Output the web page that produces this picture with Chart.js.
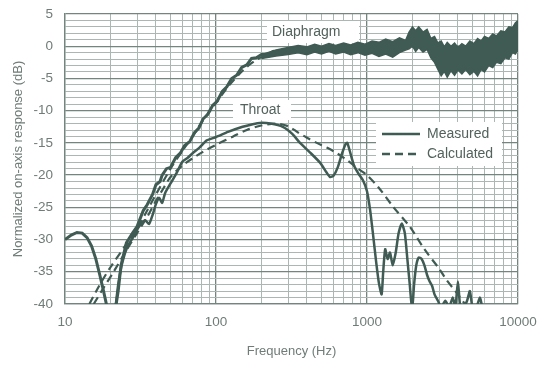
<!DOCTYPE html>
<html>
<head>
<meta charset="utf-8">
<script src="https://cdn.jsdelivr.net/npm/chart.js@4/dist/chart.umd.min.js"></script>
<style>
  body { margin: 0; background: #fff; }
  canvas { display: block; }
</style>
</head>
<body>
<canvas id="responseChart" width="537" height="365"></canvas>
<script>
// Diaphragm, measured (the 10-19 Hz bump is a separate stub, hence the null gap)
const diaMeasFreq = [10, 11, 12, 13, 14, 15, 16, 17, 18, 19.2, 20.5,
  21.5, 22.5, 23.5, 25.5, 28, 30, 33, 35, 38, 40, 42.6, 44, 47, 50, 54, 58, 62, 67, 72, 77, 82, 88, 95,
  102, 110, 118, 127, 137, 148, 160, 172, 185, 200, 220, 240, 260, 280, 300, 330, 360, 390, 420, 460,
  500, 540, 580, 630, 680, 730, 790, 850, 920, 1000, 1100, 1200, 1300, 1400, 1500, 1600, 1750, 1900,
  2000, 2150, 2300, 2500, 2650, 2800, 3000, 3200, 3400, 3700, 4000, 4300, 4600, 5000, 5500, 6000,
  6600, 7200, 8000, 8800, 9400, 10000];
const diaMeasDb = [-30, -29.3, -28.9, -29, -29.7, -31, -33, -35.5, -38, -41, null,
  -41, -38, -34, -30.5, -29, -28, -25.5, -24.6, -23, -21.5, -21, -20, -19, -18.8, -17.3, -16.6, -15.4,
  -14.8, -13.4, -12.7, -11.3, -10.6, -9.2, -8.5, -7, -6.3, -5, -4.5, -3.3, -2.9, -1.9, -1.8, -1.3,
  -1.3, -0.8, -1, -0.6, -0.9, -0.5, -0.6, -0.4, -0.6, -0.3, -0.6, -0.2, -0.5, -0.3, -0.4, -0.2, -0.5,
  -0.3, -0.5, -0.5, -0.2, -0.5, -0.1, -0.4, -0.5, 0.1, 0.1, 1, 1.5, 1, 0.8, 1, -0.3, -0.5, -1.5, -2,
  -2.1, -1.9, -2, -1.9, -1.8, -1.8, -1.7, -1.3, -0.8, -0.4, 0, 0.5, 1.1, 1.7];

// Diaphragm, measured: upper and lower edges of the noisy band
const diaBandFreq = [200, 250, 300, 350, 400, 450, 500, 560, 620, 700, 780, 870, 970, 1080, 1200,
  1330, 1480, 1640, 1800, 1900, 2000, 2100, 2200, 2350, 2500, 2650, 2800, 2950, 3100, 3250, 3400,
  3600, 3800, 4000, 4250, 4500, 4800, 5100, 5400, 5700, 6000, 6400, 6800, 7200, 7700, 8200, 8700,
  9200, 9600, 10000];
const diaBandHigh = [-1.3, -0.6, -0.2, 0.1, -0.1, 0.3, 0.0, 0.4, 0.1, 0.5, 0.2, 0.6, 0.3, 0.8, 0.6,
  1.1, 0.7, 1.3, 0.9, 2.2, 3.0, 2.4, 3.0, 2.2, 2.6, 1.2, 1.5, 0.5, 0.8, -0.1, 0.6, 0.0, 0.5, -0.2,
  0.4, 0.0, 0.8, 0.4, 1.2, 0.8, 1.5, 1.2, 1.9, 1.6, 2.4, 2.2, 3.0, 2.9, 3.6, 4.0];
const diaBandLow = [-1.9, -1.5, -1.3, -1.0, -1.3, -0.9, -1.2, -0.8, -1.2, -0.9, -1.3, -1.0, -1.4,
  -1.1, -1.6, -1.2, -1.7, -1.0, -0.6, -0.4, 0.0, -0.8, -0.2, -0.9, -0.5, -1.8, -2.5, -3.6, -4.6, -3.9,
  -4.8, -3.8, -4.5, -3.7, -4.3, -3.6, -4.4, -3.9, -4.6, -3.6, -4.0, -3.0, -3.3, -2.5, -2.7, -1.8,
  -2.0, -1.0, -1.2, -0.6];

// Diaphragm, calculated
const diaCalcFreq = [14.5, 17, 20, 25, 30, 35, 40, 50, 60, 70, 82, 100, 120, 150, 180, 220, 300, 500, 1000, 2000, 10000];
const diaCalcDb = [-40, -37, -34.3, -31, -28.3, -25.5, -23, -19, -16.2, -14, -11.5, -8.8, -6.3, -3.8, -2.3, -1.3, -0.6, -0.3, -0.2, -0.1, 0];

// Throat, measured
const thrMeasFreq = [21.5, 22.5, 24, 26, 28, 30, 32, 34, 36, 38, 40, 42, 44, 46, 50, 55, 60, 65, 70,
  78, 87, 100, 120, 150, 175, 195, 230, 277, 320, 360, 420, 490, 540, 570, 600, 640, 680, 720, 740,
  770, 820, 880, 940, 1000, 1050, 1100, 1150, 1200, 1250, 1280, 1320, 1370, 1420, 1480, 1550, 1620,
  1700, 1780, 1850, 1920, 1990, 2050, 2120, 2200, 2300, 2400, 2500, 2600, 2700, 2800, 2950, 3100,
  3300, 3500, 3700, 3850, 4000, 4150, 4350, 4600, 4800, 5000, 5300, 5600, 5800, 6000];
const thrMeasDb = [-41, -37, -33.5, -31, -29.8, -28.5, -27.5, -27, -27.6, -26.2, -24.5, -23.5,
  -24.3, -22.8, -21.3, -19.6, -17.9, -17.3, -16.6, -15.7, -14.6, -14.1, -13.3, -12.5, -12.1, -11.9,
  -12, -12.5, -13.6, -15, -16.5, -18.1, -19.6, -20.3, -20.1, -18.8, -16.8, -15.2, -15, -16.3, -18.5,
  -19.8, -20.8, -22.5, -25.5, -29.5, -33.5, -36.8, -38.5, -35, -31.5, -33, -32, -34, -32, -29, -27.5,
  -29, -33, -37, -41, -37, -34, -32.8, -33, -34, -35.5, -36.5, -37.2, -38.5, -39.5, -40.5, -39.5,
  -40.5, -39, -40.5, -36.5, -40.5, -40.5, -39.5, -38, -40.5, -40.5, -39, -40.5, -41];

// Throat, calculated
const thrCalcFreq = [15.5, 18, 21, 25, 30, 35, 40, 45, 50, 60, 70, 82, 100, 130, 160, 200, 250, 300,
  350, 400, 465, 550, 632, 750, 870, 1000, 1200, 1500, 1920, 2400, 3000, 3370, 4000, 4600];
const thrCalcDb = [-40, -37.5, -35, -32, -29, -26.5, -24, -22, -20.3, -18.5, -17.4, -16.4, -15.3,
  -14, -13, -12.3, -12, -12.4, -13.4, -14.2, -15, -15.8, -16.6, -17.8, -19, -20, -22, -25, -28, -31.5,
  -34.5, -36.3, -38.5, -40.5];

const xLabelTicks = [10, 100, 1000, 10000];
const yLabelStep = 5;

const lineColor = '#3f5b53';
const textColor = '#6f7c78';
const fontFamily = "'Liberation Sans', Arial, sans-serif";

const toPoints = (freqs, dbs) => freqs.map((f, i) => ({ x: f, y: dbs[i] }));

// x grid at every 1..9 x 10^n
const logGrid = [];
for (let d = 10; d < 10000; d *= 10) {
  for (let m = 1; m < 10; m++) logGrid.push(m * d);
}
logGrid.push(10000);

const labelsPlugin = {
  id: 'labels',
  beforeDatasetsDraw(chart) {
    const c = chart.ctx;
    c.save();
    c.fillStyle = '#fff';
    c.fillRect(267, 21, 92, 22);
    c.fillRect(233, 100, 58, 20);
    c.fillRect(376, 122, 126, 44);

    c.font = '14px ' + fontFamily;
    c.fillStyle = '#53625d';
    c.textBaseline = 'middle';
    c.textAlign = 'left';
    c.fillText('Diaphragm', 272, 32);
    c.fillText('Throat', 240, 110);

    // legend
    c.strokeStyle = lineColor;
    c.lineWidth = 2.5;
    c.beginPath();
    c.moveTo(382, 134);
    c.lineTo(420, 134);
    c.stroke();
    c.setLineDash([8, 5]);
    c.beginPath();
    c.moveTo(382, 154);
    c.lineTo(420, 154);
    c.stroke();
    c.setLineDash([]);
    c.fillText('Measured', 427, 134);
    c.fillText('Calculated', 427, 154);
    c.restore();
  }
};

const ctx = document.getElementById('responseChart').getContext('2d');

const chart = new Chart(ctx, {
  type: 'line',
  data: {
    datasets: [
      {
        label: 'Diaphragm band top',
        data: toPoints(diaBandFreq, diaBandHigh),
        borderColor: lineColor,
        borderWidth: 1.5,
        pointRadius: 0,
        fill: false
      },
      {
        label: 'Diaphragm band bottom',
        data: toPoints(diaBandFreq, diaBandLow),
        borderColor: lineColor,
        backgroundColor: lineColor,
        borderWidth: 1.5,
        pointRadius: 0,
        fill: '-1'
      },
      {
        label: 'Diaphragm measured',
        data: toPoints(diaMeasFreq, diaMeasDb),
        borderColor: lineColor,
        borderWidth: 3,
        pointRadius: 0,
        tension: 0,
        spanGaps: false
      },
      {
        label: 'Throat measured',
        data: toPoints(thrMeasFreq, thrMeasDb),
        borderColor: lineColor,
        borderWidth: 2.5,
        pointRadius: 0,
        tension: 0.2
      },
      {
        label: 'Diaphragm calculated',
        data: toPoints(diaCalcFreq, diaCalcDb),
        borderColor: lineColor,
        borderWidth: 2.2,
        borderDash: [8, 5],
        pointRadius: 0,
        tension: 0.3
      },
      {
        label: 'Throat calculated',
        data: toPoints(thrCalcFreq, thrCalcDb),
        borderColor: lineColor,
        borderWidth: 2.2,
        borderDash: [8, 5],
        pointRadius: 0,
        tension: 0.3
      }
    ]
  },
  options: {
    responsive: false,
    animation: false,
    layout: { padding: { top: 14, right: 19, left: 0, bottom: 0 } },
    plugins: {
      legend: { display: false },
      tooltip: { enabled: false }
    },
    scales: {
      x: {
        type: 'logarithmic',
        min: 10,
        max: 10000,
        afterBuildTicks: (scale) => {
          scale.ticks = logGrid.map(v => ({ value: v }));
        },
        afterFit: (scale) => {
          scale.height = 61;
          scale.paddingLeft = 0;
          scale.paddingRight = 0;
        },
        ticks: {
          autoSkip: false,
          maxRotation: 0,
          padding: 10,
          color: textColor,
          font: { family: fontFamily, size: 13.5 },
          callback: (v) => xLabelTicks.includes(v) ? String(v) : ''
        },
        grid: {
          drawTicks: false,
          color: (c) => xLabelTicks.includes(c.tick && c.tick.value) ? '#74847f' : '#aab7b3',
          lineWidth: (c) => xLabelTicks.includes(c.tick && c.tick.value) ? 1.3 : 1
        },
        border: { color: '#74847f', width: 1.3 },
        title: {
          display: true,
          text: 'Frequency (Hz)',
          color: textColor,
          font: { family: fontFamily, size: 13 },
          padding: { top: 0, bottom: 6 }
        }
      },
      y: {
        min: -40,
        max: 5,
        afterFit: (scale) => {
          scale.width = 65;
          scale.paddingTop = 0;
          scale.paddingBottom = 0;
        },
        ticks: {
          stepSize: 1,
          autoSkip: false,
          padding: 12,
          color: textColor,
          font: { family: fontFamily, size: 13.5 },
          callback: (v) => v % yLabelStep === 0 ? String(v) : ''
        },
        grid: {
          drawTicks: false,
          color: (c) => c.tick && c.tick.value % yLabelStep === 0 ? '#74847f' : '#aab7b3',
          lineWidth: (c) => c.tick && c.tick.value % yLabelStep === 0 ? 1.3 : 1
        },
        border: { color: '#74847f', width: 1.3 },
        title: {
          display: true,
          text: 'Normalized on-axis response (dB)',
          color: textColor,
          font: { family: fontFamily, size: 13 },
          padding: { top: 11, bottom: 0 }
        }
      }
    }
  },
  plugins: [labelsPlugin]
});
</script>
</body>
</html>
